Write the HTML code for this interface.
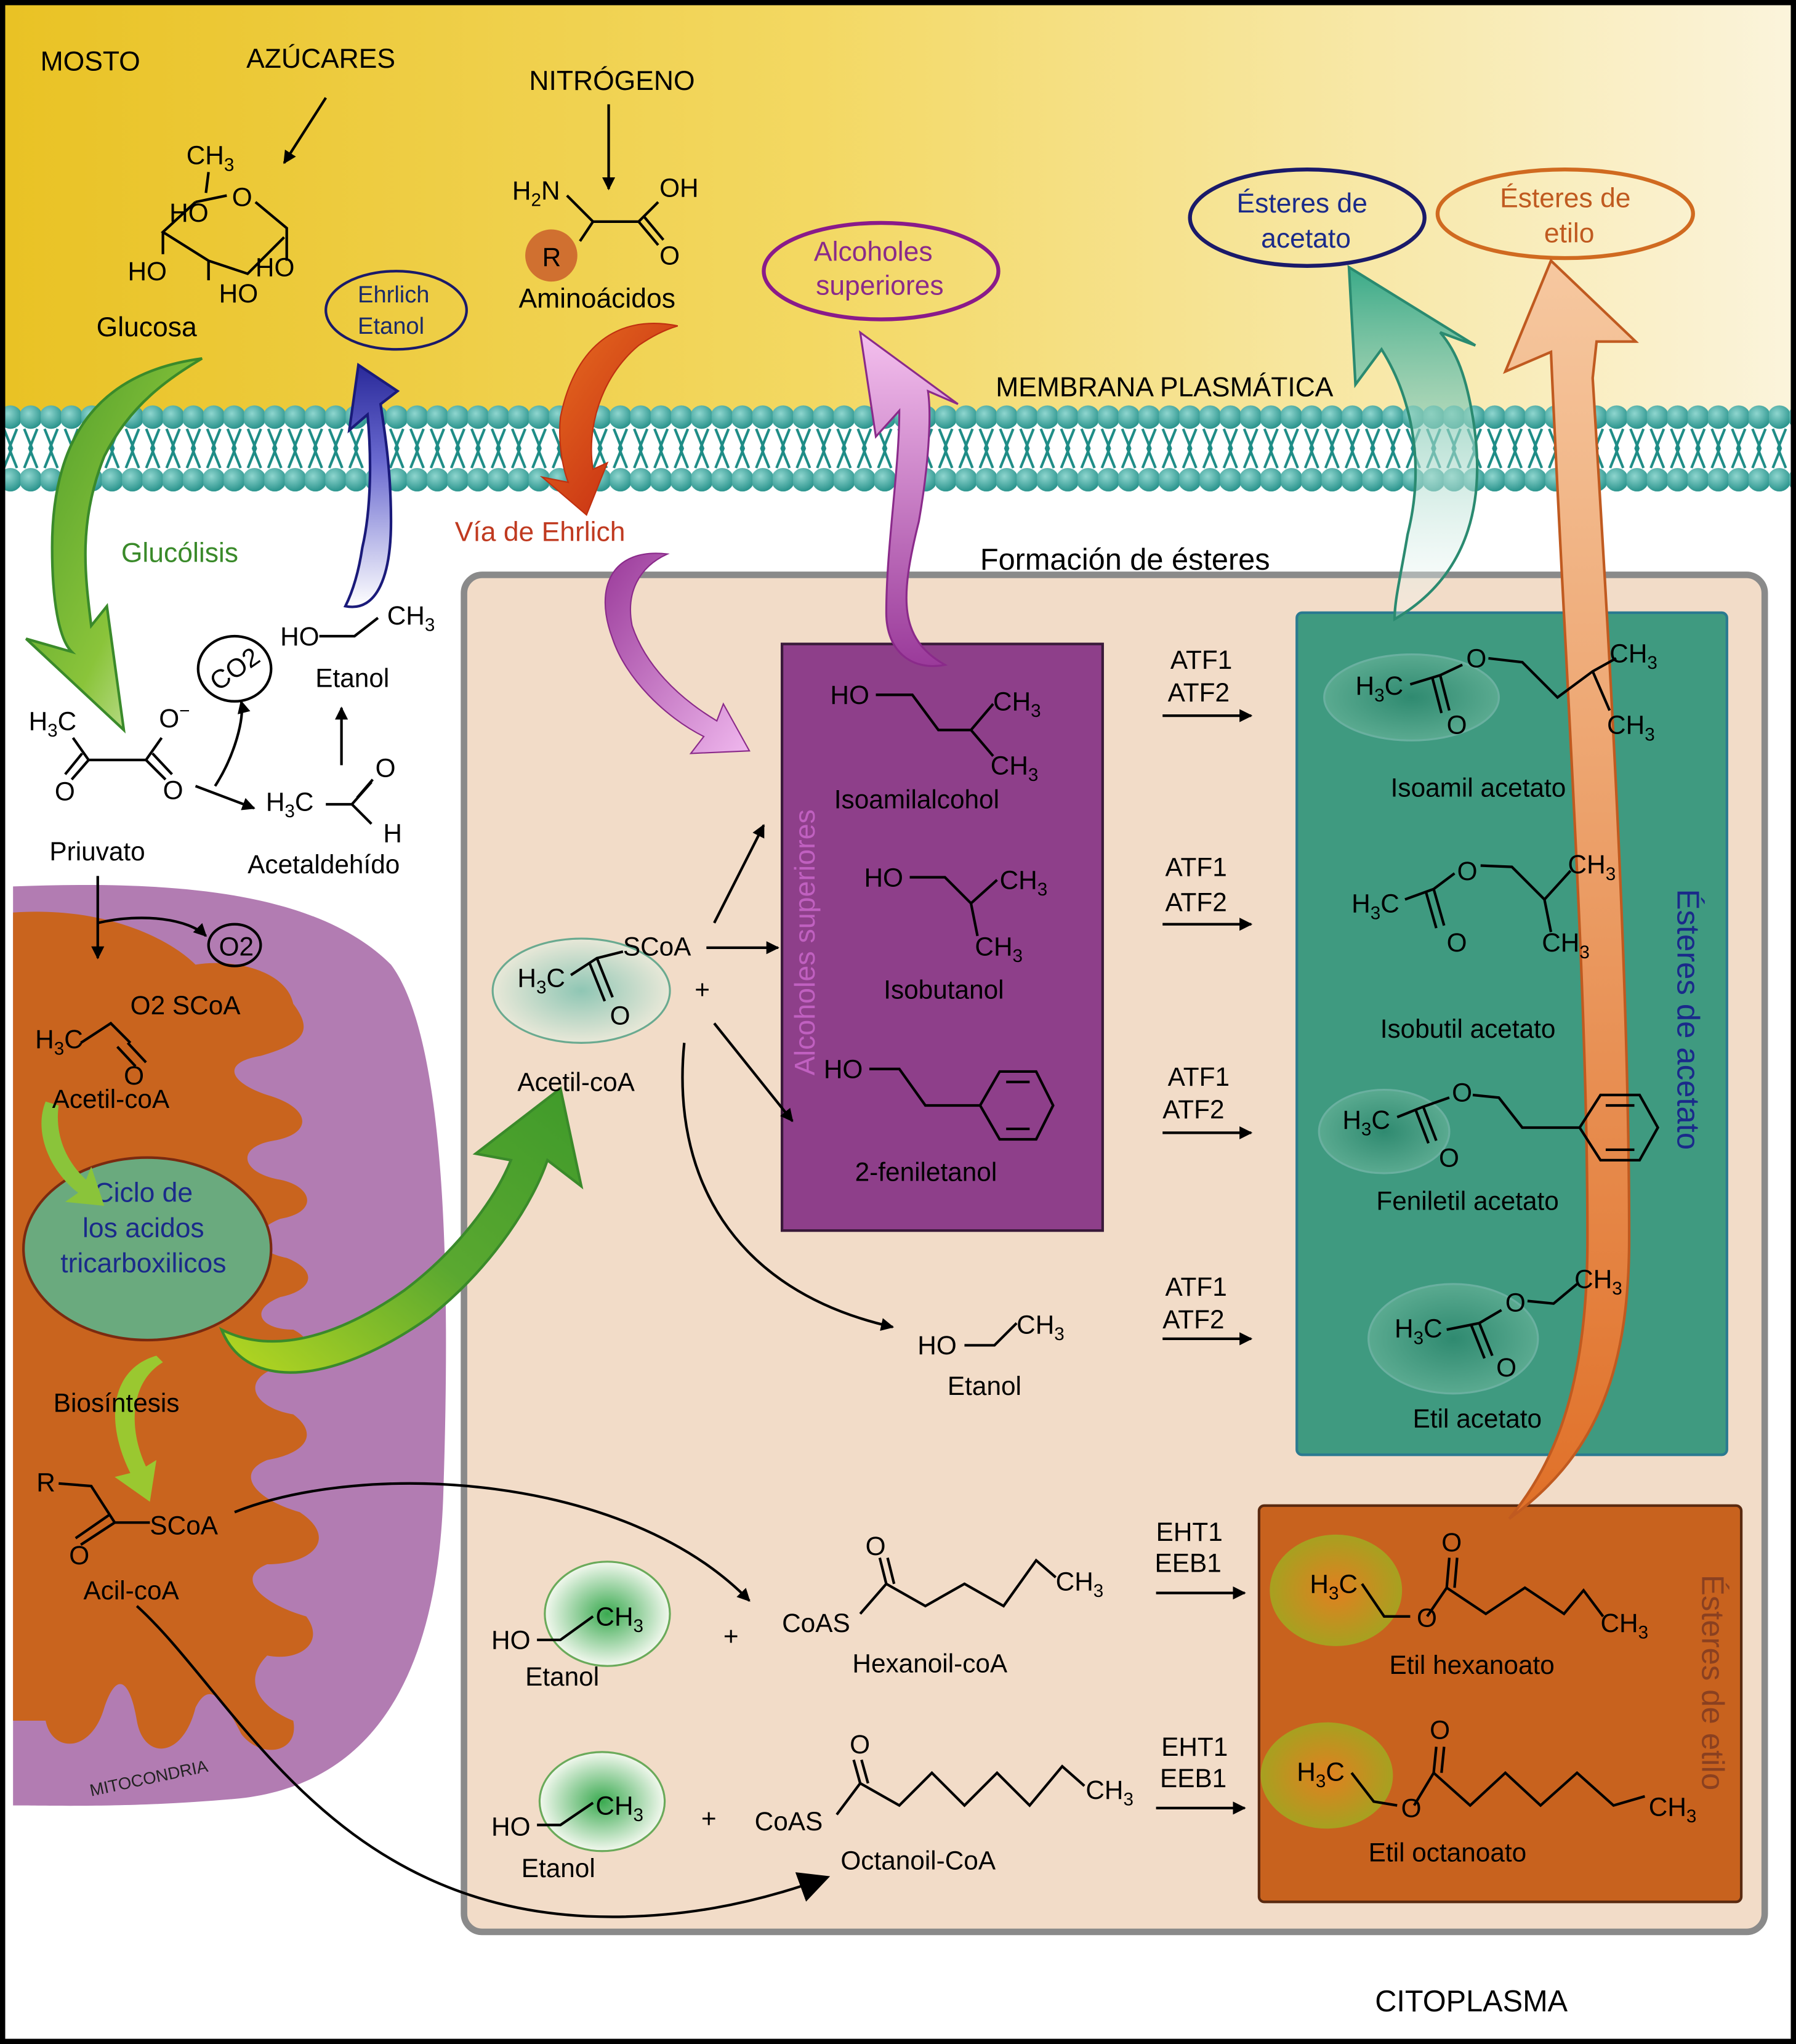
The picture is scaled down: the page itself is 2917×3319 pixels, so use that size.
<!DOCTYPE html>
<html><head><meta charset="utf-8"><style>
html,body{margin:0;padding:0;background:#fff}
svg{display:block}
text{font-family:"Liberation Sans",sans-serif;}
</style></head><body>
<svg width="2917" height="3319" viewBox="0 0 1378 1568" preserveAspectRatio="none" xmlns="http://www.w3.org/2000/svg">
<defs>
<linearGradient id="yel" x1="0" y1="0" x2="1" y2="0">
<stop offset="0" stop-color="#e9c224"/><stop offset="0.45" stop-color="#f3d862"/><stop offset="1" stop-color="#fbf4dc"/></linearGradient>
<radialGradient id="ball" cx="0.4" cy="0.35" r="0.7"><stop offset="0" stop-color="#8fd6cf"/><stop offset="1" stop-color="#238f88"/></radialGradient>
<linearGradient id="grn" x1="0" y1="0" x2="1" y2="1"><stop offset="0" stop-color="#4a9a2a"/><stop offset="0.6" stop-color="#8ac43a"/><stop offset="1" stop-color="#e8f4d8"/></linearGradient>
<linearGradient id="grn2" x1="0" y1="1" x2="1" y2="0"><stop offset="0" stop-color="#b8d820"/><stop offset="0.5" stop-color="#5aa830"/><stop offset="1" stop-color="#3f9a2a"/></linearGradient>
<linearGradient id="blu" x1="0" y1="1" x2="0" y2="0"><stop offset="0" stop-color="#fff"/><stop offset="0.6" stop-color="#6a6ad0"/><stop offset="1" stop-color="#2a2a9a"/></linearGradient>
<linearGradient id="red" x1="0" y1="0" x2="1" y2="1"><stop offset="0" stop-color="#e87020"/><stop offset="1" stop-color="#c02010"/></linearGradient>
<linearGradient id="pur" x1="0" y1="0" x2="1" y2="1"><stop offset="0" stop-color="#9a3a9a"/><stop offset="1" stop-color="#f0b8ee"/></linearGradient>
<linearGradient id="pink" x1="0" y1="1" x2="0" y2="0"><stop offset="0" stop-color="#9a3a9a"/><stop offset="1" stop-color="#f4c0ee"/></linearGradient>
<linearGradient id="tea" x1="0" y1="1" x2="0" y2="0"><stop offset="0" stop-color="#ffffff" stop-opacity="0.3"/><stop offset="1" stop-color="#3aaa88"/></linearGradient>
<linearGradient id="ora" x1="0" y1="1" x2="0" y2="0"><stop offset="0" stop-color="#e07028"/><stop offset="1" stop-color="#f6c8a0"/></linearGradient>
<radialGradient id="gball" cx="0.5" cy="0.5" r="0.5"><stop offset="0" stop-color="#3aaa50"/><stop offset="1" stop-color="#f2f8ee"/></radialGradient>
<radialGradient id="tball" cx="0.5" cy="0.5" r="0.5"><stop offset="0" stop-color="#2f8a70"/><stop offset="1" stop-color="#5aaa90"/></radialGradient>
<radialGradient id="oball" cx="0.5" cy="0.5" r="0.5"><stop offset="0" stop-color="#e08020"/><stop offset="1" stop-color="#a8a020"/></radialGradient>
<radialGradient id="aball" cx="0.5" cy="0.5" r="0.5"><stop offset="0" stop-color="#8fc6b4"/><stop offset="1" stop-color="#e8e8d8"/></radialGradient>
<pattern id="mem" x="0" y="305" width="15.6" height="100" patternUnits="userSpaceOnUse">
<circle cx="8" cy="15" r="9" fill="url(#ball)"/>
<circle cx="8" cy="63" r="9" fill="url(#ball)"/>
<path d="M3 24 L9 39 L3 54 M13 24 L7 39 L13 54" stroke="#1e8c86" stroke-width="2" fill="none"/>
</pattern>
<marker id="ah" markerWidth="10" markerHeight="10" refX="9" refY="5" orient="auto" markerUnits="userSpaceOnUse" viewBox="0 0 10 10"><path d="M0 0 L10 5 L0 10z" fill="#000"/></marker>
<marker id="ahb" markerWidth="24" markerHeight="24" refX="22" refY="12" orient="auto" markerUnits="userSpaceOnUse" viewBox="0 0 24 24"><path d="M0 0 L24 12 L0 24z" fill="#000"/></marker>
</defs>

<rect width="1378" height="1568" fill="#fff"/>
<rect x="0" y="0" width="1378" height="340" fill="url(#yel)"/>
<rect x="0" y="322" width="1378" height="60" fill="#fff"/>
<rect x="0" y="305" width="1378" height="80" fill="url(#mem)"/>

<!-- main box -->
<rect x="356" y="441" width="998" height="1041" rx="14" fill="#f2dcc8" stroke="#8a8a8a" stroke-width="5"/>

<!-- mitochondria -->
<path d="M10 680 C120 676 240 680 300 740 C345 800 345 1000 340 1150 C335 1280 290 1370 180 1380 C100 1387 40 1385 10 1385 Z" fill="#b27cb2"/>
<path d="M10 700 C80 695 130 720 150 740 C180 735 220 745 225 770 C240 790 235 800 200 810 C170 815 175 830 205 840 C240 850 240 870 210 875 C180 880 185 900 215 905 C240 910 245 930 215 935 C190 945 195 960 220 965 C245 975 240 990 215 995 C190 1005 200 1020 225 1020 C245 1030 235 1045 210 1050 C185 1060 195 1080 225 1085 C245 1100 235 1115 205 1120 C180 1130 195 1150 230 1160 C260 1180 240 1200 205 1200 C180 1210 200 1230 235 1240 C250 1260 230 1275 205 1270 C185 1290 200 1310 225 1320 C230 1345 200 1350 185 1330 C170 1300 160 1290 150 1310 C140 1350 110 1350 105 1320 C100 1290 90 1280 80 1310 C70 1345 40 1345 35 1320 L10 1320 Z" fill="#c9641e"/>
<text x="70" y="1378" font-size="13" fill="#222" transform="rotate(-12 70 1378)">MITOCONDRIA</text>

<!-- ciclo -->
<ellipse cx="113" cy="958" rx="95" ry="70" fill="#6aaa7e" stroke="#7a2a10" stroke-width="2"/>
<text x="110" y="922" font-size="21" fill="#1a2a8a" text-anchor="middle">Ciclo de</text>
<text x="110" y="949" font-size="21" fill="#1a2a8a" text-anchor="middle">los acidos</text>
<text x="110" y="976" font-size="21" fill="#1a2a8a" text-anchor="middle">tricarboxilicos</text>

<!-- purple box -->
<rect x="600" y="494" width="246" height="450" fill="#8e3f8a" stroke="#3a1a3a" stroke-width="2"/>
<text x="625" y="825" font-size="22" fill="#c060c0" transform="rotate(-90 625 825)">Alcoholes superiores</text>
<!-- teal box -->
<rect x="995" y="470" width="330" height="646" rx="4" fill="#3f9a80" stroke="#2a7a90" stroke-width="2"/>
<text x="1287" y="682" font-size="24" fill="#1a2a8a" transform="rotate(90 1287 682)">Ésteres de acetato</text>
<!-- orange box -->
<rect x="966" y="1155" width="370" height="304" rx="4" fill="#c8621e" stroke="#5a2a10" stroke-width="2"/>
<text x="1306" y="1208" font-size="24" fill="#8a4020" transform="rotate(90 1306 1208)">Ésteres de etilo</text>

<!-- ellipses top -->
<ellipse cx="676" cy="208" rx="90" ry="37" fill="none" stroke="#8a1a8a" stroke-width="3"/>
<text x="670" y="200" font-size="21" fill="#8a2a8a" text-anchor="middle">Alcoholes</text>
<text x="675" y="226" font-size="21" fill="#8a2a8a" text-anchor="middle">superiores</text>
<ellipse cx="1003" cy="167" rx="90" ry="37" fill="none" stroke="#1a1a6a" stroke-width="3"/>
<text x="999" y="163" font-size="21" fill="#1a2a8a" text-anchor="middle">Ésteres de</text>
<text x="1002" y="190" font-size="21" fill="#1a2a8a" text-anchor="middle">acetato</text>
<ellipse cx="1201" cy="164" rx="98" ry="34" fill="none" stroke="#d06a20" stroke-width="3"/>
<text x="1201" y="159" font-size="21" fill="#c05a20" text-anchor="middle">Ésteres de</text>
<text x="1204" y="186" font-size="21" fill="#c05a20" text-anchor="middle">etilo</text>
<ellipse cx="304" cy="238" rx="54" ry="30" fill="none" stroke="#1a1a6a" stroke-width="2"/>
<text x="302" y="232" font-size="18" fill="#1a2a6a" text-anchor="middle">Ehrlich</text>
<text x="300" y="256" font-size="18" fill="#1a2a6a" text-anchor="middle">Etanol</text>

<!-- big arrows -->
<path d="M155 275 C80 285 40 330 40 420 C40 460 45 490 55 500 L20 490 L95 560 L82 465 L70 480 C65 440 60 400 80 350 C100 310 130 290 155 275 Z" fill="url(#grn)" stroke="#3a8a2a" stroke-width="2"/>
<path d="M265 465 C290 470 300 440 300 400 C300 360 295 330 292 310 L305 300 L275 280 L268 330 L282 318 C285 350 285 390 278 420 C275 440 270 455 265 465 Z" fill="url(#blu)" stroke="#1a1a7a" stroke-width="2"/>
<path d="M520 250 C470 240 440 270 430 320 C428 340 432 360 436 370 L416 366 L450 395 L466 355 L455 360 C450 330 460 290 490 265 C500 258 510 253 520 250 Z" fill="url(#red)" stroke="#c03010" stroke-width="1"/>
<path d="M512 425 C470 420 455 450 470 490 C480 520 510 550 540 565 L530 578 L575 576 L555 540 L550 553 C520 535 495 510 485 480 C480 455 490 435 512 425 Z" fill="url(#pur)" stroke="#8a2a8a" stroke-width="1"/>
<path d="M725 510 C690 490 690 460 705 400 C712 360 715 320 712 300 L735 310 L660 255 L672 335 L690 315 C690 360 680 420 680 470 C680 500 700 515 725 510 Z" fill="url(#pink)" stroke="#8a2a8a" stroke-width="1.5"/>
<path d="M1070 475 C1130 440 1140 380 1130 320 C1125 290 1118 270 1105 255 L1132 265 L1035 205 L1040 295 L1060 268 C1080 300 1095 350 1080 410 C1075 440 1070 460 1070 475 Z" fill="url(#tea)" stroke="#2a8a70" stroke-width="2"/>
<path d="M1158 1165 C1220 1120 1250 1060 1250 950 C1250 750 1235 500 1222 290 L1225 262 L1255 262 L1190 200 L1155 285 L1190 270 C1200 500 1218 750 1218 950 C1218 1060 1195 1120 1158 1165 Z" fill="url(#ora)" stroke="#c05a20" stroke-width="2"/>
<path d="M170 1020 C190 1070 260 1060 330 1010 C380 970 410 920 420 890 L446 910 L430 835 L365 885 L392 890 C380 920 350 960 310 990 C260 1025 210 1040 170 1020 Z" fill="url(#grn2)" stroke="#3a8a2a" stroke-width="2"/>
<path d="M35 845 C25 870 40 900 60 915 L50 922 L80 925 L70 895 L66 905 C50 890 42 870 45 848 Z" fill="#8ac43a"/>
<path d="M120 1040 C85 1050 80 1090 100 1130 L88 1133 L115 1152 L120 1120 L112 1125 C98 1095 100 1060 125 1045 Z" fill="#9ac830"/>

<!-- top labels -->
<text x="31" y="54" font-size="21">MOSTO</text>
<text x="189" y="52" font-size="21">AZÚCARES</text>
<text x="406" y="69" font-size="21">NITRÓGENO</text>
<text x="764" y="304" font-size="21">MEMBRANA PLASMÁTICA</text>
<text x="752" y="437" font-size="23">Formación de ésteres</text>
<text x="93" y="431" font-size="21" fill="#3a8a2a">Glucólisis</text>
<text x="349" y="415" font-size="21" fill="#c03a20">Vía de Ehrlich</text>
<text x="1055" y="1543" font-size="23">CITOPLASMA</text>
<g stroke="#000" stroke-width="2">
<line x1="250" y1="75" x2="218" y2="125" marker-end="url(#ah)"/>
<line x1="467" y1="80" x2="467" y2="145" marker-end="url(#ah)"/>
</g>
<!-- glucose -->
<g font-size="20"><text x="143" y="126">CH<tspan font-size="14" dy="5">3</tspan></text>
<text x="130" y="170">HO</text><text x="178" y="158">O</text><text x="98" y="215">HO</text><text x="168" y="232">HO</text><text x="196" y="212">HO</text>
<text x="74" y="258" font-size="21">Glucosa</text></g>
<path d="M160 132 L158 148 M150 155 L174 150 M196 155 L220 175 L220 200 M218 182 L190 210 L160 200 L125 178 L150 155 M125 178 L125 195 M160 200 L160 215" stroke="#000" stroke-width="2" fill="none"/>
<!-- aminoacid -->
<text x="393" y="153" font-size="20">H<tspan font-size="14" dy="5">2</tspan><tspan dy="-5">N</tspan></text>
<text x="506" y="151" font-size="20">OH</text><text x="506" y="203" font-size="20">O</text>
<path d="M435 150 L455 170 L490 170 L505 155 M490 170 L505 188 M494 166 L509 184 M455 170 L445 185" stroke="#000" stroke-width="2" fill="none"/>
<circle cx="423" cy="196" r="20" fill="#d07030"/><text x="416" y="204" font-size="20">R</text>
<text x="398" y="236" font-size="21">Aminoácidos</text>

<!-- pyruvate etc -->
<g font-size="20">
<text x="22" y="560">H<tspan font-size="14" dy="5">3</tspan><tspan dy="-5">C</tspan></text>
<text x="122" y="558">O<tspan font-size="14" dy="-8">−</tspan></text>
<text x="42" y="614">O</text><text x="125" y="613">O</text>
<text x="38" y="660">Priuvato</text>
<text x="215" y="495">HO</text><text x="297" y="479">CH<tspan font-size="14" dy="5">3</tspan></text>
<text x="242" y="527">Etanol</text>
<text x="204" y="622">H<tspan font-size="14" dy="5">3</tspan><tspan dy="-5">C</tspan></text>
<text x="288" y="596">O</text><text x="294" y="646">H</text>
<text x="190" y="670">Acetaldehído</text>
</g>
<g stroke="#000" stroke-width="2" fill="none">
<path d="M56 566 L68 583 L112 583 L124 566"/>
<path d="M68 583 L55 598 M63 578 L50 594"/>
<path d="M112 583 L127 598 M117 578 L132 594"/>
<path d="M150 603 L195 620" marker-end="url(#ah)"/>
<path d="M165 603 C180 580 188 550 185 538" marker-end="url(#ah)"/>
<path d="M262 587 L262 543" marker-end="url(#ah)"/>
<path d="M250 617 L270 617 L285 600 M274 612 L286 598 M270 617 L285 632 M245 488 L272 488 L290 474"/>
<path d="M75 672 L75 735" marker-end="url(#ah)"/>
<path d="M75 708 C110 700 145 705 158 718" marker-end="url(#ah)"/>
</g>
<ellipse cx="180" cy="513" rx="28" ry="25" fill="none" stroke="#000" stroke-width="2"/>
<text x="180" y="520" font-size="20" text-anchor="middle" transform="rotate(-35 180 513)">CO2</text>
<ellipse cx="180" cy="725" rx="20" ry="16" fill="none" stroke="#000" stroke-width="2"/>
<text x="168" y="733" font-size="20">O2</text>

<!-- mito labels -->
<g font-size="20">
<text x="100" y="778">O2 SCoA</text>
<text x="27" y="804">H<tspan font-size="14" dy="5">3</tspan><tspan dy="-5">C</tspan></text>
<text x="95" y="832">O</text>
<text x="40" y="850">Acetil-coA</text>
<text x="41" y="1083">Biosíntesis</text>
<text x="28" y="1144">R</text>
<text x="115" y="1177">SCoA</text><text x="53" y="1200">O</text>
<text x="64" y="1227">Acil-coA</text>
</g>
<path d="M62 800 L85 785 L100 800 M90 803 L104 818 M98 800 L112 815" stroke="#000" stroke-width="2" fill="none"/>
<path d="M45 1138 L70 1140 L88 1168 L115 1168 M88 1168 L62 1185 M84 1162 L58 1180" stroke="#000" stroke-width="2" fill="none"/>
<g stroke="#000" stroke-width="2" fill="none">
<path d="M180 1160 C280 1120 480 1130 575 1228" marker-end="url(#ah)"/>
<path d="M105 1232 C180 1300 250 1460 450 1470 C520 1473 580 1460 635 1440" marker-end="url(#ahb)"/>
</g>

<!-- acetil-coA center -->
<ellipse cx="446" cy="760" rx="68" ry="40" fill="url(#aball)" stroke="#6aaa90" stroke-width="1.5"/>
<g font-size="20"><text x="397" y="757">H<tspan font-size="14" dy="5">3</tspan><tspan dy="-5">C</tspan></text>
<text x="478" y="733">SCoA</text><text x="468" y="786">O</text><text x="533" y="766">+</text>
<text x="397" y="837">Acetil-coA</text></g>
<g stroke="#000" stroke-width="2" fill="none">
<path d="M438 748 L458 735 L478 730 M458 735 L470 765 M452 738 L464 768"/>
<path d="M548 708 L586 633" marker-end="url(#ah)"/>
<path d="M542 727 L597 727" marker-end="url(#ah)"/>
<path d="M548 785 L608 860" marker-end="url(#ah)"/>
<path d="M525 800 C515 900 560 990 685 1018" marker-end="url(#ah)"/>
</g>

<!-- alcohols -->
<g font-size="20">
<text x="637" y="540">HO</text><text x="762" y="545">CH<tspan font-size="14" dy="5">3</tspan></text><text x="760" y="594">CH<tspan font-size="14" dy="5">3</tspan></text>
<text x="640" y="620">Isoamilalcohol</text>
<text x="663" y="680">HO</text><text x="767" y="682">CH<tspan font-size="14" dy="5">3</tspan></text><text x="748" y="733">CH<tspan font-size="14" dy="5">3</tspan></text>
<text x="678" y="766">Isobutanol</text>
<text x="632" y="827">HO</text>
<text x="656" y="906">2-feniletanol</text>
<text x="704" y="1039">HO</text><text x="780" y="1023">CH<tspan font-size="14" dy="5">3</tspan></text>
<text x="727" y="1070">Etanol</text>
</g>
<g stroke="#000" stroke-width="2" fill="none">
<path d="M672 533 L700 533 L720 560 L745 560 L762 540 M745 560 L762 580"/>
<path d="M698 673 L725 673 L745 693 L765 675 M745 693 L750 718"/>
<path d="M667 820 L690 820 L710 848 L752 848 L767 822 L795 822 L808 848 L795 874 L767 874 L752 848 M772 830 L790 830 M772 866 L790 866"/>
<path d="M740 1032 L763 1032 L780 1015"/>
</g>

<!-- ATF -->
<g font-size="20">
<text x="898" y="513">ATF1</text><text x="896" y="538">ATF2</text>
<text x="894" y="672">ATF1</text><text x="894" y="699">ATF2</text>
<text x="896" y="833">ATF1</text><text x="892" y="858">ATF2</text>
<text x="894" y="994">ATF1</text><text x="892" y="1019">ATF2</text>
<text x="887" y="1182">EHT1</text><text x="886" y="1206">EEB1</text>
<text x="891" y="1347">EHT1</text><text x="890" y="1371">EEB1</text>
</g>
<g stroke="#000" stroke-width="2">
<path d="M892 549 L960 549" marker-end="url(#ah)"/>
<path d="M892 709 L960 709" marker-end="url(#ah)"/>
<path d="M892 869 L960 869" marker-end="url(#ah)"/>
<path d="M892 1027 L960 1027" marker-end="url(#ah)"/>
<path d="M887 1222 L955 1222" marker-end="url(#ah)"/>
<path d="M887 1387 L955 1387" marker-end="url(#ah)"/>
</g>

<!-- acetate esters -->
<ellipse cx="1083" cy="535" rx="67" ry="33" fill="url(#tball)" stroke="#6ab0a0" stroke-width="1.5"/>
<ellipse cx="1062" cy="868" rx="50" ry="32" fill="url(#tball)" stroke="#6ab0a0" stroke-width="1.5"/>
<ellipse cx="1115" cy="1027" rx="65" ry="42" fill="url(#tball)" stroke="#6ab0a0" stroke-width="1.5"/>
<g font-size="20">
<text x="1040" y="533">H<tspan font-size="14" dy="5">3</tspan><tspan dy="-5">C</tspan></text><text x="1125" y="512">O</text><text x="1110" y="563">O</text>
<text x="1235" y="508">CH<tspan font-size="14" dy="5">3</tspan></text><text x="1233" y="563">CH<tspan font-size="14" dy="5">3</tspan></text>
<text x="1067" y="611">Isoamil acetato</text>
<text x="1037" y="700">H<tspan font-size="14" dy="5">3</tspan><tspan dy="-5">C</tspan></text><text x="1118" y="675">O</text><text x="1110" y="730">O</text>
<text x="1203" y="670">CH<tspan font-size="14" dy="5">3</tspan></text><text x="1183" y="730">CH<tspan font-size="14" dy="5">3</tspan></text>
<text x="1059" y="796">Isobutil acetato</text>
<text x="1030" y="866">H<tspan font-size="14" dy="5">3</tspan><tspan dy="-5">C</tspan></text><text x="1114" y="845">O</text><text x="1104" y="895">O</text>
<text x="1056" y="928">Feniletil acetato</text>
<text x="1070" y="1026">H<tspan font-size="14" dy="5">3</tspan><tspan dy="-5">C</tspan></text><text x="1155" y="1006">O</text><text x="1148" y="1056">O</text>
<text x="1208" y="988">CH<tspan font-size="14" dy="5">3</tspan></text>
<text x="1084" y="1095">Etil acetato</text>
</g>
<g stroke="#000" stroke-width="2" fill="none">
<path d="M1082 525 L1105 518 L1122 510 M1105 518 L1112 545 M1099 520 L1106 547 M1142 505 L1168 508 L1195 535 L1222 515 L1240 505 M1222 515 L1235 545"/>
<path d="M1078 690 L1100 682 L1116 670 M1100 682 L1108 710 M1094 684 L1102 712 M1136 664 L1160 665 L1185 690 L1205 668 M1185 690 L1190 715"/>
<path d="M1072 857 L1092 849 L1112 842 M1092 849 L1102 875 M1086 851 L1096 877 M1130 840 L1150 842 L1168 865 L1212 865 L1228 840 L1258 840 L1272 865 L1258 890 L1228 890 L1212 865 M1232 848 L1254 848 M1232 882 L1254 882"/>
<path d="M1110 1020 L1135 1015 L1152 1005 M1135 1015 L1145 1040 M1129 1017 L1139 1042 M1172 998 L1192 1000 L1210 985"/>
</g>

<!-- ethyl -->
<ellipse cx="466" cy="1238" rx="48" ry="40" fill="url(#gball)" stroke="#6aaa5a" stroke-width="1.5"/>
<ellipse cx="462" cy="1382" rx="48" ry="38" fill="url(#gball)" stroke="#6aaa5a" stroke-width="1.5"/>
<ellipse cx="1025" cy="1220" rx="50" ry="42" fill="url(#oball)" stroke="#a8a020" stroke-width="1.5"/>
<ellipse cx="1018" cy="1362" rx="50" ry="40" fill="url(#oball)" stroke="#a8a020" stroke-width="1.5"/>
<g font-size="20">
<text x="377" y="1265">HO</text><text x="457" y="1247">CH<tspan font-size="14" dy="5">3</tspan></text><text x="403" y="1293">Etanol</text><text x="555" y="1262">+</text>
<text x="377" y="1408">HO</text><text x="457" y="1392">CH<tspan font-size="14" dy="5">3</tspan></text><text x="400" y="1440">Etanol</text><text x="538" y="1402">+</text>
<text x="600" y="1252">CoAS</text><text x="664" y="1193">O</text><text x="810" y="1220">CH<tspan font-size="14" dy="5">3</tspan></text>
<text x="654" y="1283">Hexanoil-coA</text>
<text x="579" y="1404">CoAS</text><text x="652" y="1345">O</text><text x="833" y="1380">CH<tspan font-size="14" dy="5">3</tspan></text>
<text x="645" y="1434">Octanoil-CoA</text>
<text x="1005" y="1222">H<tspan font-size="14" dy="5">3</tspan><tspan dy="-5">C</tspan></text><text x="1087" y="1248">O</text><text x="1106" y="1190">O</text>
<text x="1228" y="1252">CH<tspan font-size="14" dy="5">3</tspan></text><text x="1066" y="1284">Etil hexanoato</text>
<text x="995" y="1366">H<tspan font-size="14" dy="5">3</tspan><tspan dy="-5">C</tspan></text><text x="1075" y="1394">O</text><text x="1097" y="1334">O</text>
<text x="1265" y="1393">CH<tspan font-size="14" dy="5">3</tspan></text><text x="1050" y="1428">Etil octanoato</text>
</g>
<g stroke="#000" stroke-width="2" fill="none">
<path d="M412 1258 L430 1258 L455 1240"/>
<path d="M412 1400 L430 1400 L455 1383"/>
<path d="M660 1238 L680 1215 L710 1232 L740 1215 L770 1232 L795 1197 L810 1210 M680 1215 L675 1195 M686 1215 L681 1195"/>
<path d="M642 1392 L660 1368 L690 1385 L715 1360 L740 1385 L765 1360 L790 1385 L815 1355 L832 1370 M660 1368 L655 1350 M666 1368 L661 1350"/>
<path d="M1045 1215 L1062 1240 L1082 1240 M1095 1240 L1110 1218 L1140 1238 L1170 1218 L1200 1238 L1215 1220 L1230 1240 M1110 1218 L1112 1195 M1116 1218 L1118 1195"/>
<path d="M1037 1360 L1054 1382 L1072 1385 M1085 1385 L1100 1360 L1128 1385 L1155 1360 L1182 1385 L1210 1360 L1238 1385 L1262 1378 M1100 1360 L1102 1340 M1106 1360 L1108 1340"/>
</g>

<rect x="2" y="2" width="1374" height="1564" fill="none" stroke="#000" stroke-width="4"/>
</svg>
</body></html>
